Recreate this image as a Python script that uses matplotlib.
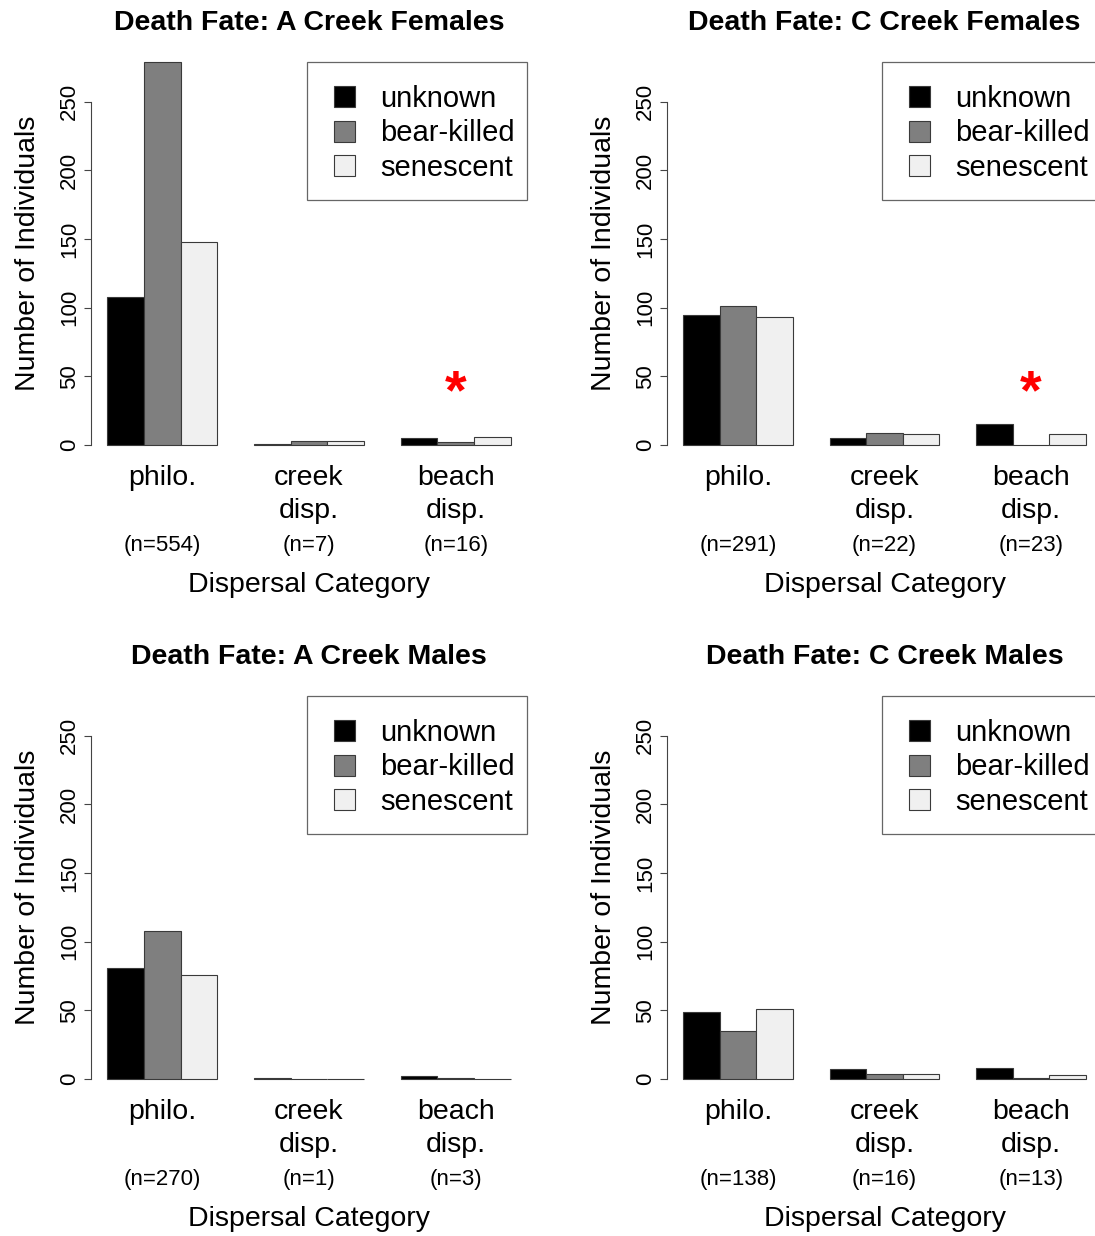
import matplotlib.pyplot as plt
from matplotlib.patches import Patch, Rectangle

plt.rcParams['font.family'] = ['Liberation Sans', 'DejaVu Sans']

fates = ["unknown", "bear-killed", "senescent"]
categories = ["philo.", "creek\ndisp.", "beach\ndisp."]
fate_colors = ["#000000", "#7f7f7f", "#f0f0f0"]

# counts per dispersal category: philo., creek disp., beach disp.
a_fem_unknown = [108, 1, 5]
a_fem_bear = [279, 3, 2]
a_fem_senescent = [148, 3, 6]
a_fem_n = [554, 7, 16]

c_fem_unknown = [95, 5, 15]
c_fem_bear = [101, 9, 0]
c_fem_senescent = [93, 8, 8]
c_fem_n = [291, 22, 23]

a_male_unknown = [81, 1, 2]
a_male_bear = [108, 0, 1]
a_male_senescent = [76, 0, 0]
a_male_n = [270, 1, 3]

c_male_unknown = [49, 7, 8]
c_male_bear = [35, 4, 1]
c_male_senescent = [51, 4, 3]
c_male_n = [138, 16, 13]

W, H = 1095, 1236
fig = plt.figure(figsize=(W / 100, H / 100), dpi=100)
BIG = 20.5
SMALL = 16


def make_axes(x0, x1, top, bottom):
    return fig.add_axes([x0 / W, 1 - bottom / H, (x1 - x0) / W, (bottom - top) / H])


def panel(ax, title, unknown, bear, senescent, n, star=False):
    series = [unknown, bear, senescent]
    for i, vals in enumerate(series):
        lefts = [1 + 4 * g + i for g in range(len(vals))]
        ax.bar(lefts, vals, width=1, align='edge', color=fate_colors[i],
               edgecolor='#3a3a3a', linewidth=0.8, clip_on=False)
    centers = [2.5 + 4 * g for g in range(len(categories))]
    ax.set_xlim(0.56, 12.44)
    ax.set_ylim(0, 279)
    for s in ['top', 'right', 'bottom']:
        ax.spines[s].set_visible(False)
    ax.spines['left'].set_bounds(0, 250)
    ax.spines['left'].set_color('#444444')
    ax.set_yticks(range(0, 251, 50))
    ax.set_yticklabels([str(v) for v in range(0, 251, 50)], rotation=90, va='center')
    ax.tick_params(axis='y', direction='out', length=5, width=0.8, colors='#444444',
                   labelcolor='black', labelsize=SMALL, pad=3)
    ax.set_xticks(centers)
    ax.set_xticklabels(categories, fontsize=BIG, linespacing=1.32)
    ax.tick_params(axis='x', length=0, pad=14.5)
    for c, nv in zip(centers, n):
        ax.annotate(f"(n={nv})", xy=(c, 0), xycoords=('data', 'axes fraction'),
                    xytext=(0, -72), textcoords='offset points',
                    ha='center', va='center', fontsize=SMALL)
    ax.annotate("Dispersal Category", xy=(0.5, 0), xycoords='axes fraction',
                xytext=(0, -101), textcoords='offset points',
                ha='center', va='center', fontsize=BIG)
    ax.annotate("Number of Individuals", xy=(0, 0.5), xycoords='axes fraction',
                xytext=(-45.5, 0), textcoords='offset points', rotation=90,
                ha='center', va='center', fontsize=BIG)
    ax.annotate(title, xy=(0.5, 1), xycoords='axes fraction',
                xytext=(0, 28), textcoords='offset points',
                ha='center', va='center', fontsize=BIG, fontweight='bold')
    if star:
        ax.text(centers[2], 37, "*", color='red', fontsize=40, fontweight='bold',
                ha='center', va='center')

    # legend box drawn by hand so the padding matches R's legend()
    ax.add_patch(Rectangle((0.495, 0.640), 0.505, 0.360, transform=ax.transAxes,
                           facecolor='white', edgecolor='#666666', linewidth=0.9,
                           clip_on=False, zorder=4))
    handles = [Patch(facecolor=fate_colors[i], edgecolor='#3a3a3a', linewidth=0.8,
                     label=fates[i]) for i in range(3)]
    leg = ax.legend(handles=handles, loc='upper right', bbox_to_anchor=(0.972, 0.94),
                    frameon=False, fontsize=21, handlelength=0.75, handleheight=0.75,
                    borderpad=0, labelspacing=0.22, handletextpad=0.85, borderaxespad=0)
    leg.set_zorder(5)


ax1 = make_axes(91, 527, 62, 445)
ax2 = make_axes(667, 1102, 62, 445)
ax3 = make_axes(91, 527, 696, 1079)
ax4 = make_axes(667, 1102, 696, 1079)

panel(ax1, "Death Fate: A Creek Females", a_fem_unknown, a_fem_bear, a_fem_senescent, a_fem_n, star=True)
panel(ax2, "Death Fate: C Creek Females", c_fem_unknown, c_fem_bear, c_fem_senescent, c_fem_n, star=True)
panel(ax3, "Death Fate: A Creek Males", a_male_unknown, a_male_bear, a_male_senescent, a_male_n)
panel(ax4, "Death Fate: C Creek Males", c_male_unknown, c_male_bear, c_male_senescent, c_male_n)

fig.savefig("out.png", dpi=100)
